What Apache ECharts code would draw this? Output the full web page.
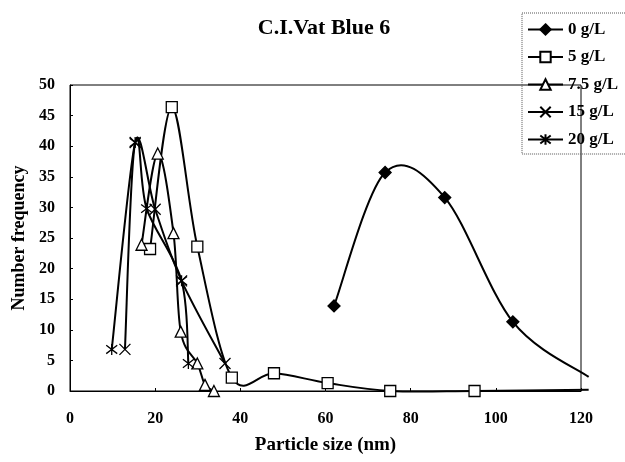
<!DOCTYPE html>
<html>
<head>
<meta charset="utf-8">
<script src="https://cdn.jsdelivr.net/npm/echarts@6/dist/echarts.min.js"></script>
<style>
  html, body { margin: 0; padding: 0; background: #fff; }
  #chart { width: 625px; height: 462px; }
</style>
</head>
<body>
<div id="chart"></div>
<script>
// particle size (nm) / number frequency
const size0 = [62, 74, 88, 104, 121.8];
const freq0 = [13.9, 35.7, 31.6, 11.3, 2.3];

const size5 = [18.8, 23.9, 29.9, 38, 47.9, 60.5, 75.2, 95, 121.8];
const freq5 = [23.2, 46.4, 23.6, 2.2, 2.9, 1.3, 0, 0, 0.2];

const size75 = [16.8, 20.6, 24.3, 26, 29.9, 31.7, 33.8];
const freq75 = [23.9, 38.8, 25.8, 9.7, 4.5, 1.0, 0];

const size15 = [12.9, 15.3, 20, 26.2, 36.4];
const freq15 = [6.8, 40.6, 29.7, 18, 4.5];

const size20 = [9.8, 15.3, 18, 26.2, 27.8];
const freq20 = [6.8, 40.6, 29.8, 18, 4.5];

const seriesNames = ['0 g/L', '5 g/L', '7.5 g/L', '15 g/L', '20 g/L'];
const xTicks = [0, 120, 20];   // min, max, step
const yTicks = [0, 50, 5];

const serif = 'Liberation Serif';
const crossPath = 'path://M0 0L10 10M10 0L0 10';
const starPath = 'path://M0 0L10 10M10 0L0 10M5 -1.5L5 11.5';

// points past the axis end only carry the curve, no marker
function pairs(xs, ys) {
  return xs.map(function (x, i) {
    const p = { value: [x, ys[i]] };
    if (x > xTicks[1]) p.symbol = 'none';
    return p;
  });
}

// markers only; the line itself comes from curveSeries
function markerSeries(name, xs, ys, symbol, fill) {
  return {
    name: name,
    type: 'line',
    data: pairs(xs, ys),
    symbol: symbol,
    symbolSize: symbol === 'diamond' ? 12 : 11,
    clip: false,
    z: 3,
    lineStyle: { color: '#000', width: 2, opacity: 0 },
    itemStyle: { color: fill, borderColor: '#000', borderWidth: 1.3 },
    emphasis: { disabled: true },
  };
}

// spreadsheet style smoothed line: cubic pieces, tangents from neighbours
function curveSeries(name, xs, ys, tension) {
  return {
    name: name + ' line',
    type: 'custom',
    coordinateSystem: 'cartesian2d',
    silent: true,
    clip: false,
    z: 2,
    data: xs.map(function (x, i) { return [x, ys[i]]; }),
    encode: { x: 0, y: 1 },
    renderItem: function (params, api) {
      const i = params.dataIndex;
      const n = xs.length;
      if (i >= n - 1) return null;
      const pt = function (k) {
        k = Math.max(0, Math.min(n - 1, k));
        return api.coord([xs[k], ys[k]]);
      };
      const p0 = pt(i - 1), p1 = pt(i), p2 = pt(i + 1), p3 = pt(i + 2);
      return {
        type: 'bezierCurve',
        shape: {
          x1: p1[0], y1: p1[1], x2: p2[0], y2: p2[1],
          cpx1: p1[0] + (p2[0] - p0[0]) * tension,
          cpy1: p1[1] + (p2[1] - p0[1]) * tension,
          cpx2: p2[0] - (p3[0] - p1[0]) * tension,
          cpy2: p2[1] - (p3[1] - p1[1]) * tension,
        },
        style: { stroke: '#000', lineWidth: 2, fill: 'none' },
      };
    },
  };
}

const chart = echarts.init(document.getElementById('chart'));
chart.setOption({
  animation: false,
  title: {
    text: 'C.I.Vat Blue 6',
    left: 319,
    top: 12,
    textAlign: 'center',
    textStyle: { fontFamily: serif, fontSize: 22, fontWeight: 'bold', color: '#000' },
  },
  legend: {
    orient: 'vertical',
    left: 522,
    top: 13,
    data: seriesNames.map(function (s) {
      return { name: s, lineStyle: { color: '#000', width: 2, opacity: 1 } };
    }),
    itemWidth: 35,
    itemHeight: 13,
    itemGap: 10.5,
    padding: [8, 12, 6, 5],
    borderColor: '#555',
    borderWidth: 1,
    borderType: 'dotted',
    textStyle: { fontFamily: serif, fontSize: 17, fontWeight: 'bold', color: '#000' },
  },
  grid: {
    left: 70,
    right: 44,
    top: 85,
    bottom: 71,
    show: true,
    borderColor: '#000',
    borderWidth: 1,
  },
  xAxis: {
    type: 'value',
    min: xTicks[0],
    max: xTicks[1],
    interval: xTicks[2],
    name: 'Particle size (nm)',
    nameLocation: 'middle',
    nameGap: 45,
    nameTextStyle: { fontFamily: serif, fontSize: 19, fontWeight: 'bold', color: '#000' },
    axisLine: { lineStyle: { color: '#000', width: 1 } },
    axisTick: { inside: true, length: 3, lineStyle: { color: '#000' } },
    axisLabel: { margin: 20, fontFamily: serif, fontSize: 16, fontWeight: 'bold', color: '#000' },
    splitLine: { show: false },
  },
  yAxis: {
    type: 'value',
    min: yTicks[0],
    max: yTicks[1],
    interval: yTicks[2],
    name: 'Number frequency',
    nameLocation: 'middle',
    nameGap: 40,
    nameTextStyle: { fontFamily: serif, fontSize: 18, fontWeight: 'bold', color: '#000' },
    axisLine: { show: true, lineStyle: { color: '#000', width: 1 } },
    axisTick: { show: true, inside: true, length: 3, lineStyle: { color: '#000' } },
    axisLabel: { margin: 15, fontFamily: serif, fontSize: 16, fontWeight: 'bold', color: '#000' },
    splitLine: { show: false },
  },
  series: [
    markerSeries(seriesNames[0], size0, freq0, 'diamond', '#000'),
    markerSeries(seriesNames[1], size5, freq5, 'rect', '#fff'),
    markerSeries(seriesNames[2], size75, freq75, 'triangle', '#fff'),
    markerSeries(seriesNames[3], size15, freq15, crossPath, 'none'),
    markerSeries(seriesNames[4], size20, freq20, starPath, 'none'),
    curveSeries(seriesNames[0], size0, freq0, 1 / 6),
    curveSeries(seriesNames[1], size5, freq5, 1 / 6),
    curveSeries(seriesNames[2], size75, freq75, 1 / 6),
    curveSeries(seriesNames[3], size15, freq15, 1 / 6),
    curveSeries(seriesNames[4], size20, freq20, 1 / 6),
  ],
});
</script>
</body>
</html>
